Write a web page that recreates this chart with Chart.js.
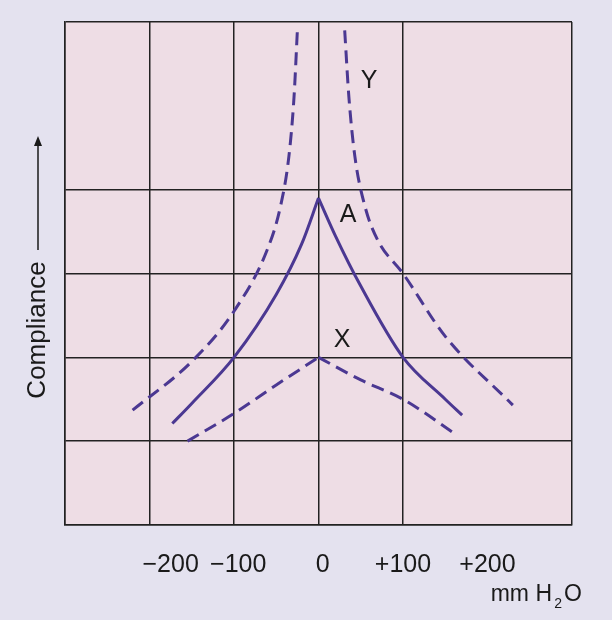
<!DOCTYPE html>
<html>
<head>
<meta charset="utf-8">
<script src="https://cdn.jsdelivr.net/npm/chart.js@4"></script>
<style>
  html, body { margin: 0; padding: 0; background: #e4e2ef; }
  #wrap { width: 612px; height: 620px; }
</style>
</head>
<body>
<div id="wrap"><canvas id="chart" width="612" height="620"></canvas></div>
<script>
// pressure in mm H2O, compliance in grid units
const curveALeft = [[-173,1.21],[-150,1.45],[-100,2.0],[-50,2.75],[-20,3.35],[0,3.9]];
const curveARight = [[0,3.9],[20,3.45],[50,2.85],[100,2.0],[150,1.5],[170,1.31]];
const curveYLeft = [[-220,1.37],[-150,1.95],[-100,2.55],[-60,3.3],[-45,3.8],[-35,4.4],[-29,5.1],[-25,5.9]];
const curveYRight = [[31,5.9],[36,5.1],[43,4.4],[55,3.8],[70,3.4],[100,3.0],[150,2.25],[230,1.43]];
const curveXLeft = [[-155,1.0],[-100,1.33],[-50,1.67],[0,2.0]];
const curveXRight = [[0,2.0],[50,1.73],[100,1.5],[164,1.07]];
const tickLabels = [[-175,'\u2212200'],[-95,'\u2212100'],[5,'0'],[100,'+100'],[200,'+200']];
const curveLabels = [[35,3.7,'A'],[60,5.3,'Y'],[28,2.2,'X']];

const purple = '#4b3892';
const toPts = arr => arr.map(([x, y]) => ({ x, y }));

function line(data, dashed) {
  return {
    data: toPts(data), showLine: true, pointRadius: 0, borderColor: purple,
    borderWidth: 3, borderDash: dashed ? [13, 7] : [], cubicInterpolationMode: 'monotone', fill: false
  };
}

const font = s => s + 'px "Liberation Sans", Arial, sans-serif';

const decor = {
  id: 'decor',
  beforeDraw(chart) {
    const { ctx, chartArea: a } = chart;
    ctx.save();
    ctx.fillStyle = '#eedde5';
    ctx.fillRect(a.left, a.top, a.right - a.left, a.bottom - a.top);
    ctx.restore();
  },
  afterDraw(chart) {
    const { ctx, scales: { x, y } } = chart;
    ctx.save();
    ctx.fillStyle = '#1a1a1a';
    ctx.font = font(25);
    ctx.textAlign = 'center';
    ctx.textBaseline = 'middle';
    tickLabels.forEach(([v, t]) => ctx.fillText(t, x.getPixelForValue(v), 565));
    ctx.font = font(23);
    ctx.textAlign = 'right';
    ctx.fillText('mm H', 552, 595);
    ctx.font = font(14);
    ctx.fillText('2', 562, 604);
    ctx.font = font(23);
    ctx.fillText('O', 582, 595);
    ctx.font = font(25);
    ctx.textAlign = 'center';
    curveLabels.forEach(([vx, vy, t]) => ctx.fillText(t, x.getPixelForValue(vx), y.getPixelForValue(vy)));
    // rotated axis title with arrow
    ctx.translate(38, 330);
    ctx.rotate(-Math.PI / 2);
    ctx.font = font(26);
    ctx.fillText('Compliance', 0, 0);
    ctx.strokeStyle = '#1a1a1a';
    ctx.lineWidth = 1.5;
    ctx.beginPath();
    ctx.moveTo(80, 0);
    ctx.lineTo(188, 0);
    ctx.stroke();
    ctx.beginPath();
    ctx.moveTo(194, 0);
    ctx.lineTo(184, -4);
    ctx.lineTo(184, 4);
    ctx.closePath();
    ctx.fill();
    ctx.restore();
  }
};

new Chart(document.getElementById('chart'), {
  type: 'scatter',
  data: {
    datasets: [
      line(curveYLeft, true),
      line(curveYRight, true),
      line(curveALeft, false),
      line(curveARight, false),
      line(curveXLeft, true),
      line(curveXRight, true)
    ]
  },
  options: {
    responsive: false,
    animation: false,
    layout: { padding: { left: 65, top: 22, right: 40, bottom: 95 } },
    plugins: { legend: { display: false }, tooltip: { enabled: false } },
    scales: {
      x: {
        min: -300, max: 300,
        ticks: { display: false, stepSize: 100 },
        grid: { drawTicks: false, lineWidth: 1.5, color: c => c.tick && c.tick.value === 200 ? 'rgba(0,0,0,0)' : '#222' },
        border: { display: true, color: '#222', width: 1.5 }
      },
      y: {
        min: 0, max: 6,
        ticks: { display: false, stepSize: 1 },
        grid: { drawTicks: false, lineWidth: 1.5, color: c => c.tick && c.tick.value === 5 ? 'rgba(0,0,0,0)' : '#222' },
        border: { display: true, color: '#222', width: 1.5 }
      }
    }
  },
  plugins: [decor]
});
</script>
</body>
</html>
